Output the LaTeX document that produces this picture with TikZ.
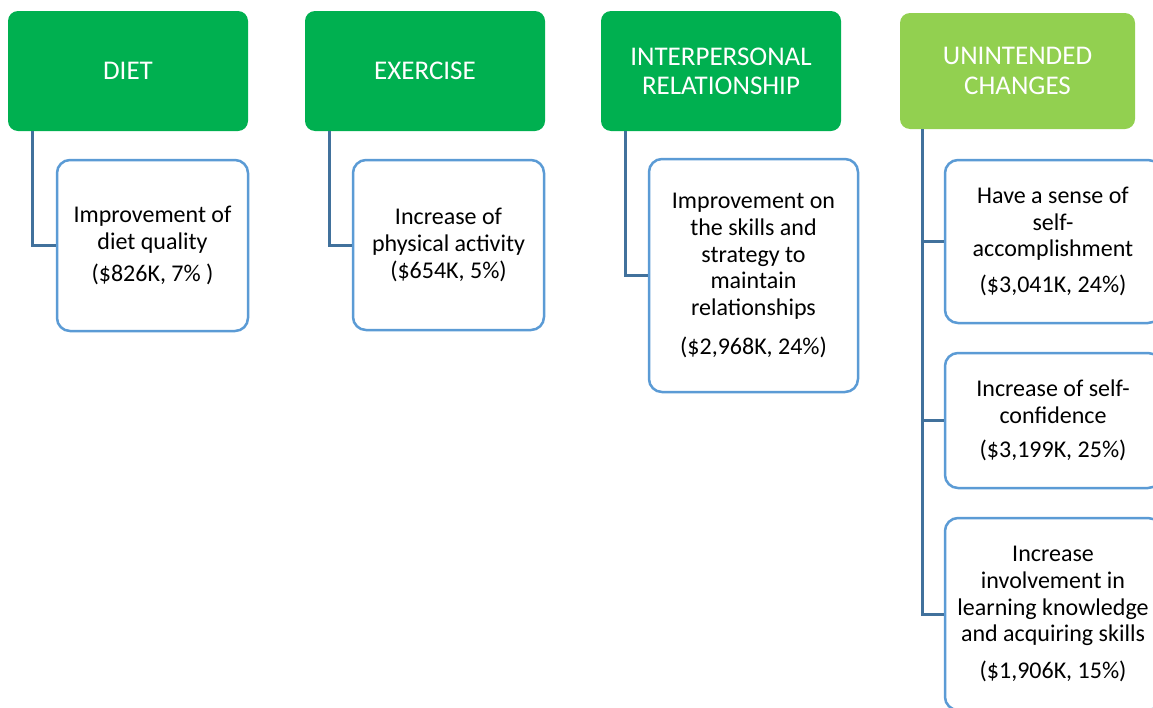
\documentclass[tikz,border=0pt]{standalone}
\usepackage{fontspec}
\setmainfont{Carlito}
\definecolor{hdrgreen}{HTML}{00B050}
\definecolor{hdrlime}{HTML}{92D050}
\definecolor{boxblue}{HTML}{5B9BD5}
\definecolor{linkblue}{HTML}{41719C}
\tikzset{
  hdr/.style={rectangle, rounded corners=10pt, fill=hdrgreen, draw=none,
    text=white, align=center, minimum width=240pt, minimum height=120pt,
    font=\fontsize{27}{29.3}\selectfont, inner sep=0pt},
  hdrlite/.style={hdr, fill=hdrlime, minimum width=235pt, minimum height=116pt},
  leaf/.style={rectangle, rounded corners=13pt, draw=boxblue, line width=2.5pt,
    fill=white, text=black, align=center, inner sep=0pt,
    font=\fontsize{24}{26.8}\selectfont},
  link/.style={draw=linkblue, line width=3pt}
}
\begin{document}
\begin{tikzpicture}[x=1pt,y=-1pt]
\useasboundingbox (0,0) rectangle (1153,707);
\clip (0,0) rectangle (1153,707);

% category headers
\node[hdr] (diet) at (128,71) {DIET};
\node[hdr] (exer) at (425,71) {EXERCISE};
\node[hdr] (inter) at (721,71) {INTERPERSONAL\\RELATIONSHIP};
\node[hdrlite] (unint) at (1017.5,71) {UNINTENDED\\CHANGES};

% outcome boxes
\node[leaf, minimum width=191pt, minimum height=171pt] (dietq) at (152.5,245.5)
  {Improvement of\\diet quality\\[6pt]({\$}826K, 7\% )};
\node[leaf, minimum width=191pt, minimum height=170pt] (phys) at (448.5,245)
  {Increase of\\physical activity\\({\$}654K, 5\%)};
\node[leaf, minimum width=209pt, minimum height=233pt] (skills) at (753.5,275.5)
  {Improvement on\\the skills and\\strategy to\\maintain\\relationships\\[12pt]({\$}2,968K, 24\%)};
\node[leaf, minimum width=216pt, minimum height=163pt] (accomp) at (1053,241.5)
  {Have a sense of\\self-\\accomplishment\\[9pt]({\$}3,041K, 24\%)};
\node[leaf, minimum width=216pt, minimum height=135pt] (conf) at (1053,420.5)
  {Increase of self-\\confidence\\[8pt]({\$}3,199K, 25\%)};
\node[leaf, minimum width=216pt, minimum height=192pt] (learn) at (1053,614)
  {Increase\\involvement in\\learning knowledge\\and acquiring skills\\[10pt]({\$}1,906K, 15\%)};

% connectors
\draw[link] ([xshift=25pt]diet.south west) |- (dietq.west);
\draw[link] ([xshift=25pt]exer.south west) |- (phys.west);
\draw[link] ([xshift=25pt]inter.south west) |- (skills.west);
\draw[link] ([xshift=23pt]unint.south west) |- (learn.west);
\draw[link] ([xshift=23pt]unint.south west) |- (accomp.west);
\draw[link] ([xshift=23pt]unint.south west) |- (conf.west);
\end{tikzpicture}
\end{document}
